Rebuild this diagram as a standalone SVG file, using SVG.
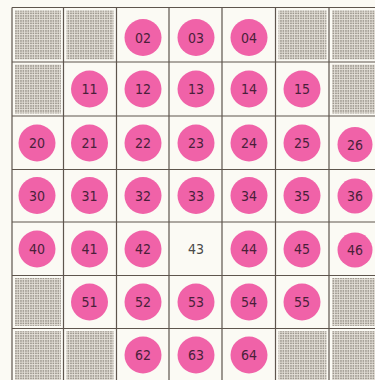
<svg xmlns="http://www.w3.org/2000/svg" width="375" height="380" viewBox="0 0 375 380">
<defs>
<pattern id="dots" width="2.5" height="2.5" patternUnits="userSpaceOnUse">
<rect width="2.5" height="2.5" fill="#e6e2da"/>
<rect x="0.2" y="0.2" width="1.5" height="1.5" fill="#8f8980"/>
</pattern>
<style>
.c{fill:#f062a8}
.s{fill:url(#dots)}
.g{stroke:#5e554d;stroke-width:1.2;fill:none}
text{font-family:"DejaVu Sans Condensed","DejaVu Sans",sans-serif;font-size:14px;text-anchor:middle;fill:#4a1f3a}
.e{fill:#4a4a4a}
</style>
</defs>
<rect width="375" height="380" fill="#fbfaf4"/>
<g id="stipple">
<rect class="s" x="15" y="10.5" width="46" height="49"/>
<rect class="s" x="66.5" y="10.5" width="47" height="49"/>
<rect class="s" x="278.5" y="10.5" width="48" height="49"/>
<rect class="s" x="332" y="10.5" width="43" height="49"/>
<rect class="s" x="15" y="64.5" width="46" height="49"/>
<rect class="s" x="332" y="64.5" width="43" height="49"/>
<rect class="s" x="15" y="278" width="46" height="48"/>
<rect class="s" x="332" y="278" width="43" height="48"/>
<rect class="s" x="15" y="331" width="46" height="49"/>
<rect class="s" x="66.5" y="331" width="47" height="49"/>
<rect class="s" x="278.5" y="331" width="48" height="49"/>
<rect class="s" x="332" y="331" width="43" height="49"/>
</g>
<g id="grid" class="g">
<path d="M12 7.5H381M12 62H381M12 116H381M12 169.5H381M12 222H381M12 275.5H381M12 328.5H381"/>
<path d="M12 7.5V381M63.5 7.5V381M116.5 7.5V381M169 7.5V381M222 7.5V381M275.5 7.5V381M329 7.5V381"/>
</g>
<g id="n02"><circle class="c" cx="143" cy="37.5" r="18.5"/><text x="143" y="42.5">02</text></g>
<g id="n03"><circle class="c" cx="196" cy="37.5" r="18.5"/><text x="196" y="42.5">03</text></g>
<g id="n04"><circle class="c" cx="249" cy="37.5" r="18.5"/><text x="249" y="42.5">04</text></g>
<g id="n11"><circle class="c" cx="89.5" cy="89" r="18.5"/><text x="89.5" y="94">11</text></g>
<g id="n12"><circle class="c" cx="143" cy="89" r="18.5"/><text x="143" y="94">12</text></g>
<g id="n13"><circle class="c" cx="196" cy="89" r="18.5"/><text x="196" y="94">13</text></g>
<g id="n14"><circle class="c" cx="249" cy="89" r="18.5"/><text x="249" y="94">14</text></g>
<g id="n15"><circle class="c" cx="302" cy="89" r="18.5"/><text x="302" y="94">15</text></g>
<g id="n20"><circle class="c" cx="37" cy="143" r="18.5"/><text x="37" y="148">20</text></g>
<g id="n21"><circle class="c" cx="89.5" cy="143" r="18.5"/><text x="89.5" y="148">21</text></g>
<g id="n22"><circle class="c" cx="143" cy="143" r="18.5"/><text x="143" y="148">22</text></g>
<g id="n23"><circle class="c" cx="196" cy="143" r="18.5"/><text x="196" y="148">23</text></g>
<g id="n24"><circle class="c" cx="249" cy="143" r="18.5"/><text x="249" y="148">24</text></g>
<g id="n25"><circle class="c" cx="302" cy="143" r="18.5"/><text x="302" y="148">25</text></g>
<g id="n26"><circle class="c" cx="355" cy="144.5" r="17.5"/><text x="355" y="149.5">26</text></g>
<g id="n30"><circle class="c" cx="37" cy="195.5" r="18.5"/><text x="37" y="200.5">30</text></g>
<g id="n31"><circle class="c" cx="89.5" cy="195.5" r="18.5"/><text x="89.5" y="200.5">31</text></g>
<g id="n32"><circle class="c" cx="143" cy="195.5" r="18.5"/><text x="143" y="200.5">32</text></g>
<g id="n33"><circle class="c" cx="196" cy="195.5" r="18.5"/><text x="196" y="200.5">33</text></g>
<g id="n34"><circle class="c" cx="249" cy="195.5" r="18.5"/><text x="249" y="200.5">34</text></g>
<g id="n35"><circle class="c" cx="302" cy="195.5" r="18.5"/><text x="302" y="200.5">35</text></g>
<g id="n36"><circle class="c" cx="355" cy="196" r="17.5"/><text x="355" y="201">36</text></g>
<g id="n40"><circle class="c" cx="37" cy="249" r="18.5"/><text x="37" y="254">40</text></g>
<g id="n41"><circle class="c" cx="89.5" cy="249" r="18.5"/><text x="89.5" y="254">41</text></g>
<g id="n42"><circle class="c" cx="143" cy="249" r="18.5"/><text x="143" y="254">42</text></g>
<g id="n43"><text class="e" x="196" y="254">43</text></g>
<g id="n44"><circle class="c" cx="249" cy="249" r="18.5"/><text x="249" y="254">44</text></g>
<g id="n45"><circle class="c" cx="302" cy="249" r="18.5"/><text x="302" y="254">45</text></g>
<g id="n46"><circle class="c" cx="355" cy="250" r="17.5"/><text x="355" y="255">46</text></g>
<g id="n51"><circle class="c" cx="89.5" cy="302" r="18.5"/><text x="89.5" y="307">51</text></g>
<g id="n52"><circle class="c" cx="143" cy="302" r="18.5"/><text x="143" y="307">52</text></g>
<g id="n53"><circle class="c" cx="196" cy="302" r="18.5"/><text x="196" y="307">53</text></g>
<g id="n54"><circle class="c" cx="249" cy="302" r="18.5"/><text x="249" y="307">54</text></g>
<g id="n55"><circle class="c" cx="302" cy="302" r="18.5"/><text x="302" y="307">55</text></g>
<g id="n62"><circle class="c" cx="143" cy="355" r="18.5"/><text x="143" y="360">62</text></g>
<g id="n63"><circle class="c" cx="196" cy="355" r="18.5"/><text x="196" y="360">63</text></g>
<g id="n64"><circle class="c" cx="249" cy="355" r="18.5"/><text x="249" y="360">64</text></g>
</svg>
